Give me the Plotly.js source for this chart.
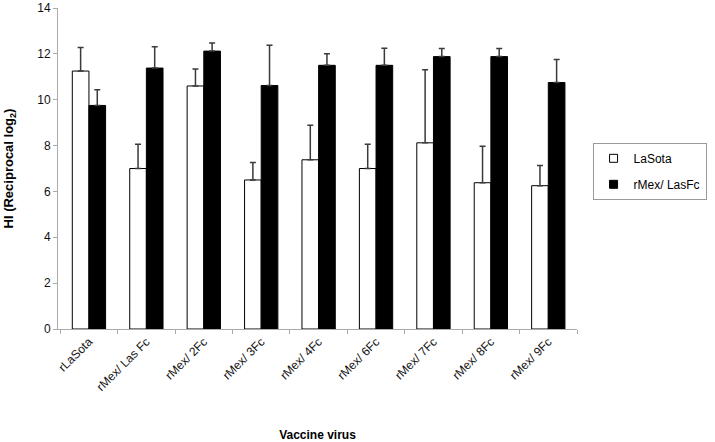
<!DOCTYPE html>
<html><head><meta charset="utf-8">
<script src="https://cdn.plot.ly/plotly-3.0.1.min.js"></script>
<style>html,body{margin:0;padding:0;background:#fff}#chart{width:715px;height:442px}</style>
</head><body><div id="chart"></div>
<script>
const categories = ["rLaSota","rMex/ Las Fc","rMex/ 2Fc","rMex/ 3Fc","rMex/ 4Fc","rMex/ 6Fc","rMex/ 7Fc","rMex/ 8Fc","rMex/ 9Fc"];
const seriesNames = ["LaSota", "rMex/ LasFc"];
const lasotaValues = [11.25, 7.0, 10.6, 6.5, 7.38, 7.0, 8.12, 6.38, 6.25];
const lasotaErr    = [1.03, 1.06, 0.74, 0.76, 1.51, 1.06, 3.19, 1.59, 0.88];
const rmexValues   = [9.75, 11.38, 12.12, 10.62, 11.5, 11.5, 11.88, 11.88, 10.75];
const rmexErr      = [0.68, 0.93, 0.35, 1.75, 0.5, 0.75, 0.35, 0.35, 1.0];
const zeros = categories.map(() => 0);

const errStyle = {type:'data', symmetric:false, arrayminus:zeros, color:'#3a3a3a', thickness:1.5, width:3};
const traces = [
  {type:'bar', name:seriesNames[0], x:categories, y:lasotaValues, showlegend:false,
   marker:{color:'#ffffff', line:{color:'#000000', width:1}},
   error_y:Object.assign({array:lasotaErr}, errStyle)},
  {type:'bar', name:seriesNames[1], x:categories, y:rmexValues, showlegend:false,
   marker:{color:'#000000', line:{color:'#000000', width:1}},
   error_y:Object.assign({array:rmexErr}, errStyle)},
  {type:'scatter', mode:'markers', name:seriesNames[0], x:[categories[0]], y:[null], legendgroup:'a',
   marker:{symbol:'square', size:8, color:'#ffffff', line:{color:'#000', width:1}}},
  {type:'scatter', mode:'markers', name:seriesNames[1], x:[categories[0]], y:[null], legendgroup:'b',
   marker:{symbol:'square', size:8, color:'#000000', line:{color:'#000', width:1}}}
];
const layout = {
  width:715, height:442,
  margin:{l:58, r:127, t:8, b:113},
  paper_bgcolor:'#fff', plot_bgcolor:'#fff',
  font:{family:'Liberation Sans, Arial, sans-serif', size:12, color:'#000'},
  barmode:'group', bargap:0.42, bargroupgap:0,
  showlegend:true,
  legend:{x:1.03, y:0.58, xanchor:'left', yanchor:'top', bgcolor:'#fff', itemwidth:30,
          bordercolor:'#9a9a9a', borderwidth:1, font:{size:12, color:'#000'},
          traceorder:'grouped', tracegroupgap:7},
  xaxis:{type:'category', tickangle:-45, tickson:'boundaries', ticks:'outside', ticklen:4,
         tickcolor:'#aaa', showline:true, linecolor:'#aaa', linewidth:1, showgrid:false,
         tickfont:{size:12, color:'#111'},
         title:{text:'<b>Vaccine virus</b>', font:{size:12}, standoff:44}},
  yaxis:{range:[0,14], dtick:2, ticks:'outside', ticklen:4, tickcolor:'#aaa',
         showline:true, linecolor:'#aaa', linewidth:1, showgrid:false, zeroline:false,
         ticklabeloverflow:'allow', tickfont:{size:12, color:'#111'},
         title:{text:'<b>HI (Reciprocal log<sub>2</sub>)</b>', font:{size:13}, standoff:20}}
};
Plotly.newPlot('chart', traces, layout, {displayModeBar:false, staticPlot:true});
</script></body></html>
